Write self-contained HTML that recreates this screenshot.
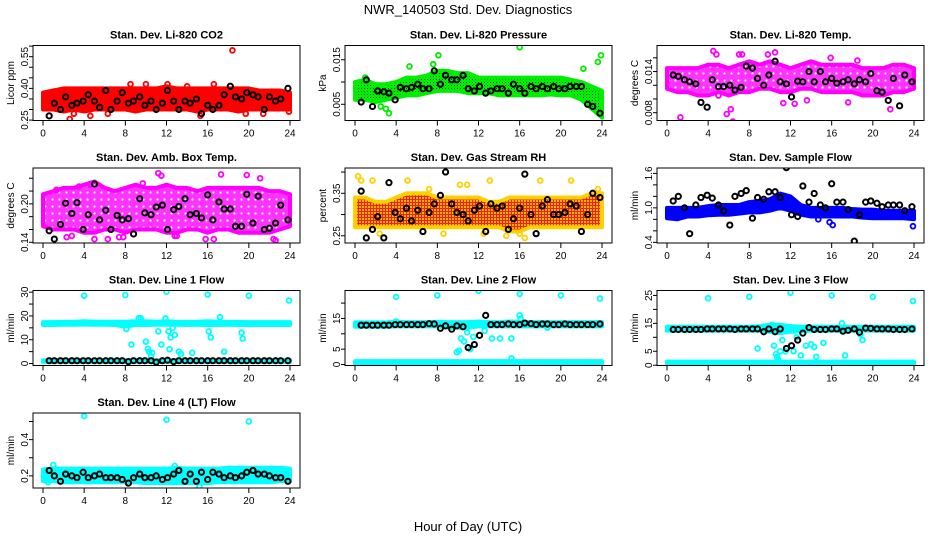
<!DOCTYPE html>
<html><head><meta charset="utf-8"><style>
html,body{margin:0;padding:0;background:#fff;}
svg{display:block;font-family:"Liberation Sans",sans-serif;}
</style></head><body>
<svg id="chart" width="936" height="540" viewBox="0 0 936 540">
<defs>
<pattern id="pGreen" width="3" height="3" patternUnits="userSpaceOnUse"><rect width="3" height="3" fill="#00ee00"/><rect x="1" y="1" width="1" height="1" fill="#004400"/></pattern>
<pattern id="pOrange" width="3" height="3" patternUnits="userSpaceOnUse"><rect width="3" height="3" fill="#ffb000"/><rect x="1" y="0" width="1" height="3" fill="#ee2200"/><rect x="0" y="1" width="3" height="1" fill="#ee2200"/></pattern>
<pattern id="pMag" width="7" height="7" patternUnits="userSpaceOnUse"><rect width="7" height="7" fill="#ff33ff"/><circle cx="3.5" cy="3.5" r="1.1" fill="#fff"/></pattern>
</defs>
<text x="468" y="14" text-anchor="middle" font-size="13">NWR_140503 Std. Dev. Diagnostics</text>
<text x="468" y="531" text-anchor="middle" font-size="13">Hour of Day (UTC)</text>
</svg>
<script>
const hours=[0,1,2,3,4,5,6,7,8,9,10,11,12,13,14,15,16,17,18,19,20,21,22,23,24];
const blackX=[0.6,1.1,1.7,2.2,2.8,3.3,3.9,4.4,5.0,5.5,6.1,6.6,7.2,7.7,8.3,8.8,9.4,9.9,10.5,11.0,11.6,12.1,12.7,13.2,13.8,14.3,14.9,15.4,16.0,16.5,17.1,17.6,18.2,18.7,19.3,19.8,20.4,20.9,21.5,22.0,22.6,23.1,23.8];
const xTicks=[0,4,8,12,16,20,24];

const co2Lo=[0.30,0.30,0.29,0.30,0.29,0.30,0.30,0.30,0.30,0.29,0.30,0.30,0.30,0.30,0.30,0.29,0.30,0.30,0.30,0.29,0.30,0.30,0.30,0.30,0.30];
const co2Hi=[0.38,0.39,0.40,0.40,0.40,0.40,0.40,0.40,0.40,0.40,0.40,0.40,0.41,0.40,0.40,0.40,0.40,0.40,0.40,0.40,0.40,0.39,0.39,0.39,0.38];
const co2ExX=[2.6,4.6,18.4,16.6,8.5,15.3,19.7,21.4,23.9,10.0,12.1,3.0,6.3,14.0];
const co2ExY=[0.255,0.27,0.58,0.42,0.42,0.27,0.28,0.28,0.29,0.42,0.42,0.28,0.28,0.41];
const co2Black=[0.27,0.33,0.30,0.36,0.32,0.33,0.34,0.37,0.34,0.31,0.39,0.30,0.34,0.38,0.33,0.34,0.36,0.32,0.34,0.30,0.33,0.39,0.34,0.30,0.34,0.33,0.35,0.28,0.32,0.30,0.32,0.37,0.41,0.36,0.35,0.38,0.37,0.36,0.30,0.36,0.34,0.35,0.40];

const presLo=[0.006,0.006,0.0055,0.006,0.0065,0.007,0.007,0.0075,0.008,0.008,0.008,0.0075,0.0075,0.0075,0.007,0.007,0.007,0.007,0.007,0.0072,0.007,0.007,0.006,0.004,0.002];
const presHi=[0.010,0.0105,0.0095,0.0095,0.010,0.011,0.011,0.0115,0.0125,0.0125,0.012,0.012,0.011,0.011,0.011,0.011,0.011,0.011,0.011,0.011,0.011,0.0105,0.010,0.009,0.008];
const presExX=[1.0,3.0,3.3,5.3,7.6,8.1,16.0,22.2,23.6,23.9,2.5];
const presExY=[0.011,0.004,0.003,0.0135,0.014,0.016,0.0178,0.013,0.0145,0.016,0.0045];
const presBlack=[0.0055,0.0105,0.0045,0.008,0.0078,0.0075,0.006,0.0088,0.0085,0.0088,0.0095,0.0085,0.0085,0.0125,0.0095,0.0115,0.0105,0.0105,0.0115,0.0085,0.008,0.009,0.0075,0.008,0.0085,0.0085,0.0075,0.0095,0.0085,0.0075,0.009,0.0085,0.009,0.0085,0.009,0.0085,0.0085,0.009,0.009,0.009,0.005,0.0045,0.003];

const ltLo=[0.0115,0.011,0.011,0.0105,0.0105,0.011,0.0105,0.011,0.011,0.0115,0.0115,0.011,0.011,0.0115,0.0115,0.011,0.011,0.011,0.011,0.0105,0.0105,0.0105,0.011,0.011,0.0115];
const ltHi=[0.0145,0.0145,0.0145,0.0145,0.015,0.015,0.0145,0.015,0.0155,0.015,0.0155,0.015,0.0145,0.015,0.0155,0.015,0.015,0.015,0.015,0.0145,0.0145,0.0145,0.015,0.015,0.0145];
const ltExX=[1.3,4.5,4.8,6.4,6.2,7.0,7.3,9.8,10.5,15.9,18.5,21.7,12.4,11.3,13.6,5.0,17.6,5.8];
const ltExY=[0.0073,0.017,0.0165,0.0067,0.0085,0.0165,0.0165,0.0165,0.0168,0.016,0.0156,0.0085,0.0093,0.0094,0.0098,0.0105,0.0095,0.0078];
const ltBlack=[0.0135,0.0133,0.0128,0.0125,0.0122,0.0095,0.0088,0.0128,0.0118,0.0118,0.0120,0.0113,0.0117,0.0148,0.0145,0.0130,0.0120,0.0135,0.0155,0.0125,0.0122,0.0103,0.0126,0.0125,0.0140,0.0125,0.0140,0.0125,0.0130,0.0123,0.0125,0.0128,0.0122,0.0128,0.0125,0.0137,0.0112,0.0110,0.0098,0.0130,0.0090,0.0135,0.0125];

const ambLo=[0.165,0.16,0.16,0.16,0.155,0.155,0.16,0.16,0.155,0.16,0.16,0.16,0.155,0.155,0.16,0.16,0.155,0.16,0.16,0.155,0.155,0.155,0.155,0.16,0.165];
const ambHi=[0.215,0.22,0.225,0.225,0.23,0.235,0.225,0.22,0.225,0.23,0.225,0.225,0.23,0.225,0.225,0.22,0.225,0.225,0.225,0.225,0.225,0.225,0.22,0.22,0.215];
const ambExX=[1.3,2.3,2.8,4.6,5.0,6.3,7.4,7.8,11.2,11.5,13.0,15.8,16.6,17.3,19.8,21.1,22.6,22.4,3.5,9.7,12.8];
const ambExY=[0.222,0.148,0.150,0.230,0.145,0.145,0.148,0.148,0.248,0.244,0.150,0.145,0.145,0.246,0.245,0.240,0.143,0.145,0.227,0.232,0.150];
const ambBlack=[0.158,0.145,0.168,0.201,0.185,0.202,0.160,0.183,0.231,0.175,0.190,0.160,0.182,0.175,0.177,0.153,0.208,0.186,0.183,0.195,0.198,0.160,0.191,0.196,0.208,0.183,0.185,0.178,0.214,0.175,0.203,0.192,0.192,0.165,0.165,0.215,0.170,0.212,0.160,0.162,0.170,0.198,0.175];

const rhLo=[0.27,0.27,0.27,0.27,0.27,0.27,0.27,0.27,0.27,0.27,0.27,0.27,0.27,0.27,0.27,0.26,0.26,0.27,0.27,0.27,0.27,0.27,0.27,0.27,0.27];
const rhHi=[0.34,0.34,0.33,0.33,0.34,0.35,0.35,0.35,0.34,0.34,0.34,0.34,0.34,0.33,0.33,0.34,0.34,0.34,0.34,0.34,0.34,0.34,0.34,0.35,0.35];
const rhExX=[0.3,0.6,1.7,5.1,7.2,8.6,10.2,10.9,13.1,14.7,16.0,16.5,18.0,21.0,23.6,2.4,12.5];
const rhExY=[0.39,0.38,0.38,0.38,0.36,0.255,0.37,0.37,0.38,0.25,0.255,0.245,0.38,0.38,0.36,0.255,0.255];
const rhBlack=[0.355,0.245,0.265,0.295,0.245,0.375,0.305,0.29,0.315,0.285,0.310,0.260,0.305,0.325,0.345,0.400,0.325,0.305,0.300,0.285,0.310,0.320,0.260,0.325,0.315,0.320,0.265,0.290,0.315,0.395,0.300,0.255,0.320,0.335,0.300,0.300,0.305,0.325,0.320,0.260,0.300,0.350,0.340];

const sfLo=[0.82,0.80,0.85,0.85,0.87,0.88,0.88,0.90,0.92,0.92,0.95,1.00,0.95,0.88,0.85,0.85,0.85,0.85,0.85,0.83,0.82,0.82,0.82,0.82,0.80];
const sfHi=[1.00,1.00,1.00,1.00,1.03,1.05,1.05,1.05,1.10,1.12,1.15,1.25,1.20,1.05,1.00,1.00,1.00,1.00,0.98,0.97,0.97,0.95,0.95,0.95,0.95];
const sfExX=[15.8,16.1,14.7,23.9];
const sfExY=[0.75,0.70,0.80,0.68];
const sfBlack=[1.12,1.20,1.00,0.55,1.05,1.18,1.22,1.17,1.05,0.95,0.70,1.20,1.25,1.30,0.82,1.18,1.15,1.28,1.28,1.18,1.70,0.88,0.85,1.38,1.10,1.25,1.05,1.00,1.42,1.10,1.10,0.97,0.42,0.88,1.10,1.12,1.08,1.02,1.05,1.05,1.05,0.95,1.02];

const l1Lo=[16.2,16.2,16.3,16.3,16.4,16.3,16.3,16.2,15.5,16.2,16.2,16.3,16.3,16.3,16.2,16.3,16.2,16.2,16.3,16.2,16.2,16.2,16.2,16.2,16.2];
const l1Hi=[17.4,17.4,17.5,17.5,17.8,17.6,17.6,17.6,17.6,17.8,17.8,17.6,17.8,17.6,17.5,17.6,17.8,17.6,17.5,17.5,17.4,17.4,17.4,17.4,17.4];
const l1Lo2=[0.7,0.7,0.7,0.7,0.7,0.7,0.7,0.7,0.7,0.7,0.7,0.7,0.7,0.7,0.7,0.7,0.7,0.7,0.7,0.7,0.7,0.7,0.7,0.7,0.7];
const l1Hi2=[1.4,1.4,1.4,1.4,1.4,1.4,1.4,1.4,1.4,1.4,1.4,1.4,1.4,1.4,1.4,1.4,1.4,1.4,1.4,1.4,1.4,1.4,1.4,1.4,1.4];
const l1ExX=[4,8,12,16,20,23.9,8.1,8.6,9.3,10,10.2,10.3,10.5,10.6,11.2,11.5,11.9,12.2,12.3,12.4,12.6,12.8,13.2,13.4,14.5,16.1,16.3,17.2,17.6,19.3,19.4,9.5];
const l1ExY=[28.5,28.8,30.2,29,28.5,26.5,14.5,8,19,9.2,6.2,5,3,4.5,13.5,8,19,13.5,6,11,15,12,5,4,4.5,13.5,11,19.5,5,13,10.5,19];
const l1Black=[1.2,1.2,1.2,1.2,1.2,1.2,1.2,1.2,1.2,1.2,1.2,1.2,1.2,1.2,0.8,1.2,1.2,1.2,1.2,0.6,1.2,1.4,0.8,1.2,1.2,1.2,1.2,1.2,1.2,1.2,1.2,1.2,1.2,1.2,1.2,1.2,1.2,1.2,1.2,1.2,1.2,1.2,1.2];

const l2Lo=[12.3,12.3,12.3,12.3,12.4,12.4,12.4,12.4,12.4,12.0,12.0,12.0,12.4,12.4,12.4,12.4,12.4,12.4,12.4,12.4,12.4,12.4,12.4,12.4,12.4];
const l2Hi=[13.7,13.7,13.7,13.7,13.9,13.8,13.8,13.8,13.9,13.8,13.8,13.8,14.0,13.8,13.8,14.0,13.9,13.8,13.8,13.8,13.8,13.8,13.8,13.8,13.8];
const l2Lo2=[0.3,0.3,0.3,0.3,0.3,0.3,0.3,0.3,0.3,0.3,0.3,0.3,0.3,0.3,0.3,0.3,0.3,0.3,0.3,0.3,0.3,0.3,0.3,0.3,0.3];
const l2Hi2=[1.1,1.1,1.1,1.1,1.1,1.1,1.1,1.1,1.1,1.1,1.1,1.1,1.1,1.1,1.1,1.1,1.1,1.1,1.1,1.1,1.1,1.1,1.1,1.1,1.1];
const l2ExX=[4,8,12,16,20,23.8,4,10.3,10.6,9.9,11.2,10.1,11.5,12.6,13.3,14.1,15.2,15.2,16.0,16.1,18.7,10.9];
const l2ExY=[22,22.5,24,23,22.5,21.5,14,8.5,7.5,4,5,4.5,9,11,8.5,8.5,8.5,2,16,15,12,10.5];
const l2Black=[12.8,12.8,12.8,12.8,12.8,12.8,13.0,13.0,13.0,13.0,13.0,13.0,13.3,13.2,11.8,12.6,11.5,12.6,12.3,5.5,6.5,9.5,16.0,13.0,13.0,13.0,13.2,13.0,13.0,13.5,13.3,13.0,13.2,13.2,13.0,13.0,13.2,13.0,13.0,13.0,13.0,13.0,13.2];

const l3Lo=[12.4,12.4,12.4,12.4,12.4,12.4,12.4,12.4,12.4,12.4,12.0,11.5,12.0,12.2,12.4,12.4,12.4,12.4,12.4,12.4,12.4,12.4,12.4,12.4,12.4];
const l3Hi=[13.8,13.8,13.8,13.8,13.8,13.8,13.8,13.8,13.8,14.0,14.5,14.5,14.0,13.8,13.8,13.8,13.8,13.8,13.8,13.8,13.8,13.8,13.8,13.8,13.8];
const l3Lo2=[0.5,0.5,0.5,0.5,0.5,0.5,0.5,0.5,0.5,0.5,0.5,0.5,0.5,0.5,0.5,0.5,0.5,0.5,0.5,0.5,0.5,0.5,0.5,0.5,0.5];
const l3Hi2=[1.3,1.3,1.3,1.3,1.3,1.3,1.3,1.3,1.3,1.3,1.3,1.3,1.3,1.3,1.3,1.3,1.3,1.3,1.3,1.3,1.3,1.3,1.3,1.3,1.3];
const l3ExX=[4,8,12,16,20,23.9,10.4,10.6,10.7,10.8,11.0,11.2,11.5,12.3,12.6,13.0,13.5,14.0,14.3,14.5,15.2,17.0,17.3,18.8,19.0,8.8,10.2];
const l3ExY=[24,24.5,26,25,24.5,23,7,4,3,2,5,9,5,5,10,3.5,7,7.5,6.5,3,8,15,3.5,11,9,6,14.5];
const l3Black=[12.8,12.8,12.8,12.8,12.8,12.8,13.0,13.0,13.0,13.0,13.0,12.8,13.0,13.0,13.0,13.0,12.0,13.0,12.0,13.0,6.0,7.0,9.0,11.5,13.5,12.8,12.8,12.8,13.0,13.0,12.2,12.5,13.0,11.8,13.3,13.2,13.0,13.0,13.0,12.8,12.8,12.8,13.0];

const l4Lo=[0.17,0.17,0.165,0.165,0.165,0.165,0.165,0.165,0.165,0.165,0.16,0.16,0.16,0.16,0.16,0.16,0.16,0.165,0.165,0.165,0.165,0.165,0.165,0.17,0.17];
const l4Hi=[0.235,0.24,0.24,0.24,0.24,0.24,0.24,0.24,0.24,0.24,0.24,0.24,0.24,0.245,0.24,0.24,0.24,0.24,0.245,0.245,0.245,0.245,0.245,0.245,0.24];
const l4ExX=[4,12,20,1,12.8,15.2,0.5];
const l4ExY=[0.53,0.51,0.50,0.26,0.255,0.14,0.165];
const l4Black=[0.23,0.20,0.17,0.21,0.20,0.19,0.22,0.19,0.20,0.21,0.19,0.19,0.19,0.18,0.16,0.19,0.21,0.19,0.19,0.20,0.18,0.19,0.21,0.23,0.17,0.21,0.17,0.22,0.18,0.22,0.21,0.19,0.20,0.19,0.20,0.22,0.23,0.21,0.21,0.20,0.19,0.19,0.17];

const NS='http://www.w3.org/2000/svg';
const svg=document.getElementById('chart');
function mk(tag,attrs,parent){const e=document.createElementNS(NS,tag);for(const k in attrs)e.setAttribute(k,attrs[k]);parent.appendChild(e);return e;}

const panels=[
 {key:'co2',title:'Stan. Dev. Li-820 CO2',ylab:'Licor ppm',c:0,r:0,dom:[0.248,0.603],dec:2,ticks:[0.25,0.30,0.35,0.40,0.45,0.50,0.55,0.60],labels:[0.25,0.40,0.55],lo:co2Lo,hi:co2Hi,exX:co2ExX,exY:co2ExY,blk:co2Black,col:'#ff0000',fill:'#ff0000'},
 {key:'pressure',title:'Stan. Dev. Li-820 Pressure',ylab:'kPa',c:1,r:0,dom:[0.00136,0.0182],dec:3,ticks:[0.005,0.010,0.015],labels:[0.005,0.015],lo:presLo,hi:presHi,exX:presExX,exY:presExY,blk:presBlack,col:'#00ee00',fill:'url(#pGreen)'},
 {key:'li820-temp',title:'Stan. Dev. Li-820 Temp.',ylab:'degrees C',c:2,r:0,dom:[0.00686,0.0178],dec:3,ticks:[0.008,0.010,0.012,0.014,0.016],labels:[0.008,0.014],lo:ltLo,hi:ltHi,exX:ltExX,exY:ltExY,blk:ltBlack,col:'#ff00ff',fill:'url(#pMag)'},
 {key:'amb-box-temp',title:'Stan. Dev. Amb. Box Temp.',ylab:'degrees C',c:0,r:1,dom:[0.1389,0.256],dec:2,ticks:[0.14,0.16,0.18,0.20,0.22,0.24],labels:[0.14,0.20],lo:ambLo,hi:ambHi,exX:ambExX,exY:ambExY,blk:ambBlack,col:'#ff00ff',fill:'url(#pMag)'},
 {key:'gas-rh',title:'Stan. Dev. Gas Stream RH',ylab:'percent',c:1,r:1,dom:[0.233,0.4095],dec:2,ticks:[0.25,0.30,0.35,0.40],labels:[0.25,0.35],lo:rhLo,hi:rhHi,exX:rhExX,exY:rhExY,blk:rhBlack,col:'#ffd000',fill:'url(#pOrange)'},
 {key:'sample-flow',title:'Stan. Dev. Sample Flow',ylab:'ml/min',c:2,r:1,dom:[0.388,1.694],dec:1,ticks:[0.4,0.6,0.8,1.0,1.2,1.4,1.6],labels:[0.4,1.0,1.6],lo:sfLo,hi:sfHi,exX:sfExX,exY:sfExY,blk:sfBlack,col:'#0000ff',fill:'#0000ff'},
 {key:'line1-flow',title:'Stan. Dev. Line 1 Flow',ylab:'ml/min',c:0,r:2,dom:[-0.83,30.7],dec:0,ticks:[0,5,10,15,20,25,30],labels:[0,10,20,30],lo:l1Lo,hi:l1Hi,lo2:l1Lo2,hi2:l1Hi2,exX:l1ExX,exY:l1ExY,blk:l1Black,col:'#00ffff',fill:'#00ffff'},
 {key:'line2-flow',title:'Stan. Dev. Line 2 Flow',ylab:'ml/min',c:1,r:2,dom:[-0.32,24.1],dec:0,ticks:[0,5,10,15,20],labels:[0,5,15],lo:l2Lo,hi:l2Hi,lo2:l2Lo2,hi2:l2Hi2,exX:l2ExX,exY:l2ExY,blk:l2Black,col:'#00ffff',fill:'#00ffff'},
 {key:'line3-flow',title:'Stan. Dev. Line 3 Flow',ylab:'ml/min',c:2,r:2,dom:[-0.1,26.77],dec:0,ticks:[0,5,10,15,20,25],labels:[0,5,15,25],lo:l3Lo,hi:l3Hi,lo2:l3Lo2,hi2:l3Hi2,exX:l3ExX,exY:l3ExY,blk:l3Black,col:'#00ffff',fill:'#00ffff'},
 {key:'line4-flow',title:'Stan. Dev. Line 4 (LT) Flow',ylab:'ml/min',c:0,r:3,dom:[0.133,0.547],dec:1,ticks:[0.2,0.3,0.4,0.5],labels:[0.2,0.4],lo:l4Lo,hi:l4Hi,exX:l4ExX,exY:l4ExY,blk:l4Black,col:'#00ffff',fill:'#00ffff'}
];

panels.forEach(p=>{
 const L=33+312*p.c, T=45.5+122.5*p.r, W=267, H=75, B=T+H;
 const xs=v=>L+10+v*(247/24);
 const ys=v=>B-(v-p.dom[0])/(p.dom[1]-p.dom[0])*H;
 const g=mk('g',{},svg);
 
 
 const clipId='clip-'+p.key;
 const cp=mk('clipPath',{id:clipId},g);
 mk('rect',{x:L,y:T,width:W,height:H},cp);
 const data=mk('g',{'clip-path':'url(#'+clipId+')'},g);
 
 
 function band(lo,hi,name){
  let pts=[];
  hours.forEach((h,i)=>pts.push(xs(h).toFixed(1)+','+ys(hi[i]).toFixed(1)));
  for(let i=hours.length-1;i>=0;i--)pts.push(xs(hours[i]).toFixed(1)+','+ys(lo[i]).toFixed(1));
  const poly=mk('polygon',{points:pts.join(' '),fill:p.fill,stroke:p.col,'stroke-width':4,'stroke-linejoin':'round'},data);
  
  
 }
 band(p.lo,p.hi,p.key+'-band');
 if(p.lo2)band(p.lo2,p.hi2,p.key+'-low-band');
 p.exX.forEach((x,i)=>{
  const c=mk('circle',{cx:xs(x),cy:ys(p.exY[i]),r:2.4,fill:'none',stroke:p.col,'stroke-width':1.8},data);
  
  
 });
 p.blk.forEach((v,i)=>{
  const c=mk('circle',{cx:xs(blackX[i]),cy:ys(v),r:2.6,fill:'none',stroke:'#000','stroke-width':2},data);
  
  
 });
 const box=mk('rect',{x:L,y:T,width:W,height:H,fill:'none',stroke:'#000','stroke-width':1},g);
 
 
 const t=mk('text',{x:L+W/2,y:T-7,'text-anchor':'middle','font-size':11,'font-weight':'bold'},g);
 t.textContent=p.title;
 
 
 xTicks.forEach(v=>{
  mk('line',{x1:xs(v),x2:xs(v),y1:B,y2:B+5,stroke:'#000'},g);
  const tx=mk('text',{x:xs(v),y:B+16,'text-anchor':'middle','font-size':10},g);
  tx.textContent=v;
  
  
 });
 p.ticks.forEach(v=>{
  const y=ys(v); if(y<T-1||y>B+1)return;
  mk('line',{x1:L-4,x2:L,y1:y,y2:y,stroke:'#000'},g);
 });
 p.labels.forEach(v=>{
  const y=ys(v);
  const tx=mk('text',{x:L-5,y:y,'text-anchor':'middle','font-size':10,transform:'rotate(-90 '+(L-5)+' '+y+')'},g);
  tx.textContent=v.toFixed(p.dec);
  
  
 });
 const yl=mk('text',{x:L-19,y:T+H/2,'text-anchor':'middle','font-size':10,transform:'rotate(-90 '+(L-19)+' '+(T+H/2)+')'},g);
 yl.textContent=p.ylab;
 
 
});
</script>
</body></html>
